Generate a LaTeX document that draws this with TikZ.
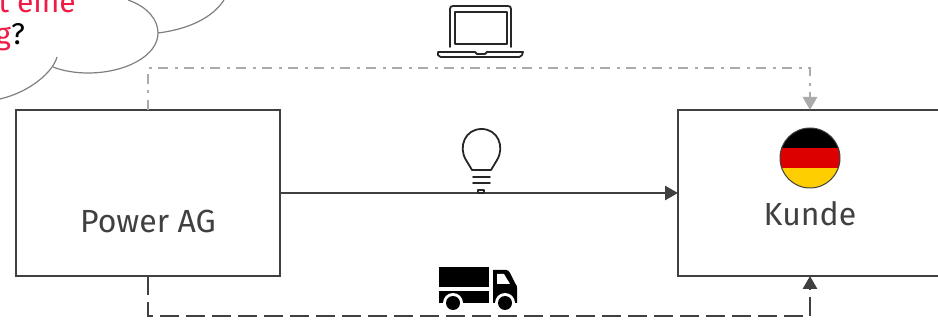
\documentclass[tikz,border=0pt]{standalone}
\usepackage{fontspec}
\setmainfont{Fira Sans}
\usetikzlibrary{arrows.meta}
\definecolor{lineDark}{HTML}{404040}
\definecolor{lineGray}{HTML}{ABABAB}
\definecolor{cloudGray}{HTML}{7F7F7F}
\definecolor{redText}{HTML}{EE1C46}
\definecolor{flagRed}{HTML}{DD0000}
\definecolor{flagGold}{HTML}{FFCE00}
\tikzset{
  boxnode/.style={draw=lineDark,line width=2.2pt,fill=white,minimum width=264pt,minimum height=166pt,inner sep=0pt,outer sep=0pt},
  boxlabel/.style={text=lineDark,inner sep=0pt,font=\fontsize{32}{38}\selectfont},
  cloudtext/.style={inner sep=0pt,font=\fontsize{30}{34}\selectfont},
  webline/.style={draw=lineGray,line width=2.8pt,dash pattern=on 10pt off 7pt on 3pt off 6pt},
  truckline/.style={draw=lineDark,line width=2.8pt,dash pattern=on 19pt off 7pt},
  power/.style={draw=lineDark,line width=2.8pt},
  cloudline/.style={draw=cloudGray,line width=1.2pt},
  iconline/.style={draw=black!85,line width=1.8pt,line cap=round,line join=round},
  tipdark/.style={-{Triangle[length=13pt,width=14pt,fill=lineDark]}},
  tipgray/.style={-{Triangle[length=13pt,width=14pt,fill=lineGray]}}
}
\begin{document}
\begin{tikzpicture}[x=1pt,y=-1pt]
\clip (0,0) rectangle (938,320);
\path[use as bounding box] (0,0) rectangle (938,320);
\fill[white] (0,0) rectangle (938,320);
% cloud
\draw[cloudline] (128,0) .. controls (148,7) and (158,20) .. (158,33) .. controls (158,56) and (125,73) .. (88,73) .. controls (76,73) and (63,71) .. (53,67);
\draw[cloudline] (158,33) .. controls (190,29) and (213,17) .. (224,0);
\draw[cloudline] (57,57) .. controls (53,72) and (30,92) .. (0,99);
% cloud text
\node[cloudtext,anchor=base east,text=redText] (q1) at (76,13) {it eine};
\node[cloudtext,anchor=base east] (q2) at (25,45) {\textcolor{redText}{g}?};
% boxes
\node[boxnode] (pw) at (148,193) {};
\node[boxnode] (ku) at (810,193) {};
\node[boxlabel] (pwl) at (148,221) {Power AG};
\node[boxlabel] (kul) at (810,214) {Kunde};
% connectors
\coordinate (topmid) at (481,68);
\coordinate (botmid) at (481,316);
\draw[webline,tipgray] (pw.north) |- (topmid) -| (ku.north);
\draw[truckline,tipdark] (pw.south) |- (botmid) -| (ku.south);
\draw[power,tipdark] (pw.east) -- (ku.west);
% flag
\begin{scope}
\clip (810,158) circle (30);
\fill[black] (780,128) rectangle (840,148);
\fill[flagRed] (780,148) rectangle (840,168);
\fill[flagGold] (780,168) rectangle (840,188);
\end{scope}
\draw[lineDark,line width=1pt] (810,158) circle (30);
% laptop
\draw[iconline] (450,47) -- (450,9) .. controls (450,7) and (451,6) .. (453,6) -- (508,6) .. controls (510,6) and (511,7) .. (511,9) -- (511,47);
\draw[iconline] (455,44) -- (455,12) -- (507,12) -- (507,44) -- cycle;
\draw[iconline] (438,52) -- (475,52) -- (477,54) -- (485,54) -- (487,52) -- (523,52) -- (522,55) .. controls (521,56) and (520,57) .. (519,57) -- (441,57) .. controls (440,57) and (439,56) .. (438,55) -- cycle;
% bulb
\draw[iconline] (472,170) -- (491,170) -- (497,160) .. controls (505,147) and (498,129) .. (481.5,129) .. controls (465,129) and (458,147) .. (466,160) -- cycle;
\draw[iconline] (473,177) -- (490,177);
\draw[iconline] (473,183) -- (490,183);
\draw[iconline] (478,190) -- (484,190) -- (484,193) -- (478,193) -- cycle;
% truck
\fill[black] (439,267) rectangle (489,287);
\fill[black] (439,291) rectangle (489,303);
\fill[black] (493,270) -- (506,270) .. controls (508,270) and (509,271) .. (510,273) -- (515,283) .. controls (517,285) and (517,287) .. (517,288) -- (517,303) -- (493,303) -- cycle;
\fill[white] (497,274) -- (504,274) -- (510,284) -- (497,284) -- cycle;
\fill[white] (453,303) circle (10);
\fill[white] (505,303) circle (10);
\fill[black] (453,303) circle (7);
\fill[black] (505,303) circle (7);
\end{tikzpicture}
\end{document}
